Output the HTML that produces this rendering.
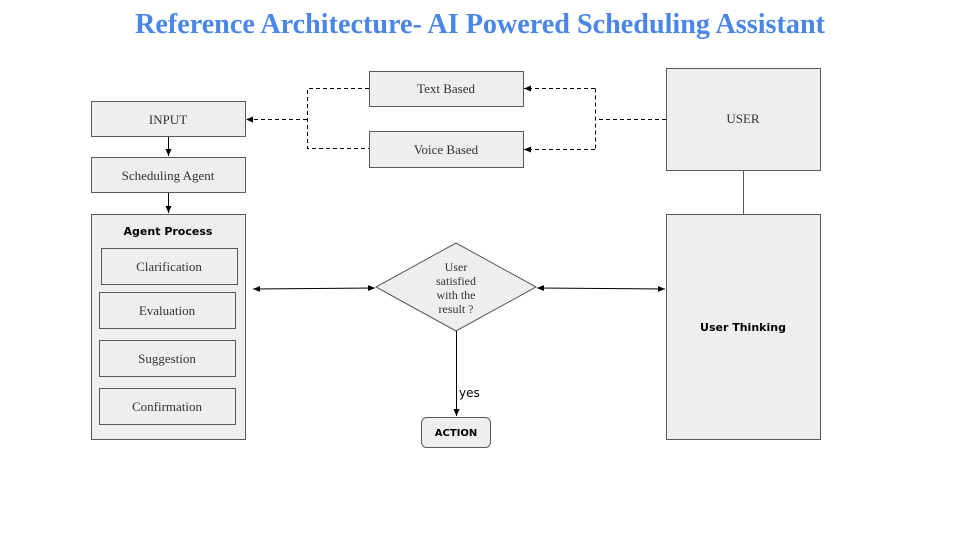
<!DOCTYPE html>
<html><head><meta charset="utf-8"><style>
html,body{margin:0;padding:0;background:#fff;}
svg{display:block;}
.s{font-family:"Liberation Serif","DejaVu Serif",serif;font-size:13px;fill:#333;}
.b{font-family:"DejaVu Sans","Liberation Sans",sans-serif;font-size:11px;font-weight:bold;fill:#000;}
</style></head><body>
<svg width="960" height="540" viewBox="0 0 960 540" xmlns="http://www.w3.org/2000/svg">
<defs>
<marker id="a" markerWidth="8" markerHeight="8" refX="7" refY="4" orient="auto-start-reverse" markerUnits="userSpaceOnUse">
<path d="M0,1 L7,4 L0,7 Z" fill="#000"/></marker>
</defs>
<text x="480" y="33" text-anchor="middle" font-family="Liberation Serif,serif" font-weight="bold" font-size="28" fill="#4a86e8" textLength="690" lengthAdjust="spacingAndGlyphs">Reference Architecture- AI Powered Scheduling Assistant</text>
<g fill="#eeeeee" stroke="#595959" stroke-width="1">
<rect x="369.5" y="71.5" width="154" height="35"/>
<rect x="369.5" y="131.5" width="154" height="36"/>
<rect x="91.5" y="101.5" width="154" height="35"/>
<rect x="91.5" y="157.5" width="154" height="35"/>
<rect x="91.5" y="214.5" width="154" height="225"/>
<rect x="101.5" y="248.5" width="136" height="36"/>
<rect x="99.5" y="292.5" width="136" height="36"/>
<rect x="99.5" y="340.5" width="136" height="36"/>
<rect x="99.5" y="388.5" width="136" height="36"/>
<rect x="666.5" y="68.5" width="154" height="102"/>
<rect x="666.5" y="214.5" width="154" height="225"/>
<polygon points="456,243 536,287 456,331 376,287"/>
<rect x="421.5" y="417.5" width="69" height="30" rx="5"/>
</g>
<line x1="743.5" y1="170" x2="743.5" y2="214" stroke="#595959"/>
<g stroke="#000" stroke-width="1" fill="none" stroke-dasharray="4,3">
<polyline points="666,119.5 595.5,119.5"/>
<polyline points="595.5,88.5 595.5,149.5"/>
<line x1="595" y1="88.5" x2="524" y2="88.5" marker-end="url(#a)"/>
<line x1="595" y1="149.5" x2="524" y2="149.5" marker-end="url(#a)"/>
<polyline points="369,88.5 307.5,88.5 307.5,148.5 369,148.5"/>
<line x1="307" y1="119.5" x2="246" y2="119.5" marker-end="url(#a)"/>
</g>
<g stroke="#000" stroke-width="1" fill="none">
<line x1="168.5" y1="137" x2="168.5" y2="156" marker-end="url(#a)"/>
<line x1="168.5" y1="193" x2="168.5" y2="213" marker-end="url(#a)"/>
<line x1="253" y1="289" x2="375" y2="288" marker-start="url(#a)" marker-end="url(#a)"/>
<line x1="537" y1="288" x2="665" y2="289" marker-start="url(#a)" marker-end="url(#a)"/>
<line x1="456.5" y1="331" x2="456.5" y2="416" marker-end="url(#a)"/>
</g>
<text class="s" x="446" y="93" text-anchor="middle">Text Based</text>
<text class="s" x="446" y="154" text-anchor="middle">Voice Based</text>
<text class="s" x="168" y="124" text-anchor="middle">INPUT</text>
<text class="s" x="168" y="180" text-anchor="middle">Scheduling Agent</text>
<text class="b" x="168" y="235" text-anchor="middle">Agent Process</text>
<text class="s" x="169" y="271" text-anchor="middle">Clarification</text>
<text class="s" x="167" y="315" text-anchor="middle">Evaluation</text>
<text class="s" x="167" y="363" text-anchor="middle">Suggestion</text>
<text class="s" x="167" y="411" text-anchor="middle">Confirmation</text>
<text class="s" x="743" y="123" text-anchor="middle">USER</text>
<text class="b" x="743" y="331" text-anchor="middle">User Thinking</text>
<g class="s" text-anchor="middle" style="font-size:12px">
<text x="456" y="271">User</text>
<text x="456" y="285">satisfied</text>
<text x="456" y="299">with the</text>
<text x="456" y="313">result ?</text>
</g>
<text x="459" y="397" font-family="DejaVu Sans,sans-serif" font-size="12" fill="#000">yes</text>
<text class="b" x="456" y="436" text-anchor="middle" style="font-size:10px">ACTION</text>
</svg>
</body></html>
